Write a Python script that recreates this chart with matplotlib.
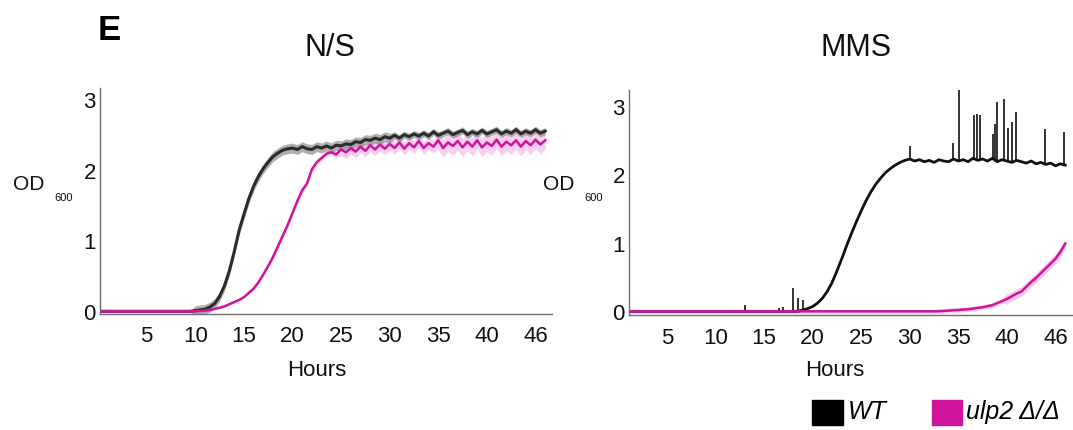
import numpy as np
import matplotlib.pyplot as plt
from matplotlib.patches import Rectangle

plt.rcParams['font.family'] = ['Liberation Sans', 'DejaVu Sans']

# time grid (hours), one reading every half hour
hours = np.arange(0, 46.01, 0.5)

# N/S growth curves (OD600)
wt_ns = [0.01] * 20 + [
    0.02, 0.03, 0.04, 0.07, 0.12, 0.22, 0.37, 0.58, 0.85, 1.15,
    1.38, 1.6, 1.78, 1.92, 2.03, 2.12, 2.2, 2.25, 2.29, 2.31,
    2.32, 2.3, 2.34, 2.31, 2.3, 2.34, 2.32, 2.35, 2.32, 2.36,
    2.35, 2.38, 2.37, 2.41, 2.4, 2.44, 2.43, 2.46, 2.44, 2.48,
    2.46,
    2.5, 2.46, 2.51, 2.48, 2.52, 2.49, 2.53, 2.49, 2.55, 2.5,
    2.53, 2.56, 2.51, 2.54, 2.57, 2.51, 2.55, 2.52, 2.57, 2.52,
    2.55, 2.58, 2.52, 2.56, 2.53, 2.58, 2.52, 2.56, 2.53, 2.58,
    2.53, 2.56]
ulp_ns = [0.01] * 20 + [
    0.01, 0.015, 0.02, 0.03, 0.045, 0.06, 0.08, 0.11, 0.14, 0.17,
    0.21, 0.27, 0.33, 0.42, 0.53, 0.65, 0.78, 0.93, 1.08, 1.23,
    1.4, 1.57, 1.72, 1.82, 2.02, 2.12, 2.18, 2.24, 2.26, 2.23,
    2.3, 2.26, 2.32, 2.27, 2.34, 2.28, 2.36, 2.3, 2.37, 2.31,
    2.38,
    2.32, 2.4, 2.31, 2.39, 2.33, 2.42, 2.32, 2.39, 2.34, 2.43,
    2.32, 2.4, 2.35, 2.42, 2.33, 2.41, 2.34, 2.43, 2.33, 2.4,
    2.35, 2.44, 2.34, 2.41, 2.36, 2.43, 2.34, 2.42, 2.36, 2.44,
    2.37, 2.43]
wt_ns_err = [0.01] * 20 + [0.07] * 41 + [0.05] * 32
ulp_ns_err = [0.01] * 36 + [0.04] * 14 + [0.09] * 20 + [0.13] * 23

# MMS growth curves (OD600)
wt_mms = [0.01] * 38 + [
    0.03, 0.05, 0.08, 0.13, 0.2, 0.3, 0.43, 0.6, 0.78, 0.97,
    1.15, 1.32, 1.48, 1.63, 1.76, 1.87, 1.96, 2.04, 2.1, 2.15,
    2.19, 2.22, 2.24,
    2.21, 2.23, 2.2, 2.22, 2.19, 2.23, 2.21, 2.2, 2.24, 2.21,
    2.23, 2.2, 2.25, 2.22, 2.24, 2.21, 2.25, 2.2, 2.23, 2.21,
    2.19, 2.22, 2.2, 2.18, 2.21, 2.17, 2.19, 2.16, 2.18, 2.14,
    2.17, 2.15]
ulp_mms = [0.01] * 66 + [
    0.012, 0.015, 0.02, 0.025, 0.03, 0.035, 0.04, 0.05, 0.06, 0.07,
    0.085, 0.1, 0.13, 0.16, 0.19, 0.23, 0.27, 0.3, 0.37, 0.44,
    0.5, 0.57, 0.64, 0.71, 0.78, 0.88, 1.0]
ulp_mms_err = [0.025] * 66 + [0.035] * 14 + [0.07] * 13

# isolated spikes in the WT MMS trace
spike_hours = [13.0, 16.5, 17.0, 18.0, 18.5, 19.0, 30.0, 34.4, 35.1, 36.6, 36.9,
               37.2, 38.6, 38.8, 39.0, 39.7, 40.1, 40.5, 40.9, 43.9, 45.9]
spike_tops = [0.1, 0.06, 0.08, 0.35, 0.2, 0.18, 2.43, 2.48, 3.26, 2.88, 2.9,
              2.88, 2.6, 2.75, 3.07, 3.12, 2.7, 2.78, 2.93, 2.68, 2.63]

x_ticks = [5, 10, 15, 20, 25, 30, 35, 40, 45]
x_ticklabels = ['5', '10', '15', '20', '25', '30', '35', '40', '46']
y_ticks = [0, 1, 2, 3]

BLACK = '#111111'
MAGENTA = '#d0139b'
PINK = '#f4a9de'

W, H = 1073, 430
fig = plt.figure(figsize=(W / 100, H / 100), dpi=100)


def fx(px):
    return px / W


def fy(py):
    return 1 - py / H


def style_axis(ax):
    for s in ('top', 'right'):
        ax.spines[s].set_visible(False)
    for s in ('left', 'bottom'):
        ax.spines[s].set_color('#6e6e6e')
        ax.spines[s].set_linewidth(1.0)
    ax.set_xticks(x_ticks)
    ax.set_xticklabels(x_ticklabels)
    ax.set_yticks(y_ticks)
    ax.tick_params(axis='both', length=0, labelsize=16, colors='#111111')
    ax.tick_params(axis='x', pad=9)
    ax.tick_params(axis='y', pad=3)


ax1 = fig.add_axes([fx(100), fy(314), fx(552) - fx(100), (314 - 88) / H])
ax2 = fig.add_axes([fx(629), fy(315), fx(1073) - fx(629), (315 - 90) / H])

# N/S panel
ax1.fill_between(hours, np.array(ulp_ns) - ulp_ns_err, np.array(ulp_ns) + ulp_ns_err,
                 color=PINK, alpha=0.55, lw=0)
ax1.fill_between(hours, np.array(wt_ns) - wt_ns_err, np.array(wt_ns) + wt_ns_err,
                 color='#7a7a7a', alpha=0.6, lw=0)
ax1.plot(hours, wt_ns, color='#2b2b2b', lw=2.2)
ax1.plot(hours, ulp_ns, color=MAGENTA, lw=1.8)
ax1.set_xlim(0.2, 46.7)
ax1.set_ylim(-0.028, 3.17)
style_axis(ax1)

# MMS panel
ax2.fill_between(hours, np.array(ulp_mms) - ulp_mms_err, np.array(ulp_mms) + ulp_mms_err,
                 color=PINK, alpha=0.6, lw=0)
spike_base = np.interp(spike_hours, hours, wt_mms)
ax2.vlines(spike_hours, spike_base, spike_tops, color=BLACK, lw=1.2)
ax2.plot(hours, wt_mms, color=BLACK, lw=2.0)
ax2.plot(hours, ulp_mms, color=MAGENTA, lw=1.8)
ax2.set_xlim(1.1, 46.8)
ax2.set_ylim(-0.044, 3.25)
style_axis(ax2)

# titles and labels
fig.text(fx(109), fy(30), 'E', fontsize=25, fontweight='bold', ha='center', va='center')
fig.text(fx(330), fy(48), 'N/S', fontsize=22, ha='center', va='center', color='#111111')
fig.text(fx(856), fy(48), 'MMS', fontsize=22, ha='center', va='center', color='#111111')
for x0 in (13, 543):
    fig.text(fx(x0), fy(185), 'OD', fontsize=15, ha='left', va='center', color='#111111')
    fig.text(fx(x0 + 41), fy(198), '600', fontsize=8, ha='left', va='center', color='#111111')
fig.text(fx(317), fy(370), 'Hours', fontsize=16, ha='center', va='center', color='#111111')
fig.text(fx(835), fy(370), 'Hours', fontsize=16, ha='center', va='center', color='#111111')

# legend
fig.add_artist(Rectangle((fx(812), fy(425)), fx(843) - fx(812), (425 - 400) / H,
                         transform=fig.transFigure, color='black'))
fig.text(fx(848), fy(412), 'WT', fontsize=18, style='italic', ha='left', va='center')
fig.add_artist(Rectangle((fx(932), fy(425)), fx(962) - fx(932), (425 - 400) / H,
                         transform=fig.transFigure, color=MAGENTA))
fig.text(fx(966), fy(412), 'ulp2 Δ/Δ', fontsize=18, style='italic', ha='left', va='center')

fig.savefig('out.png', dpi=100)
